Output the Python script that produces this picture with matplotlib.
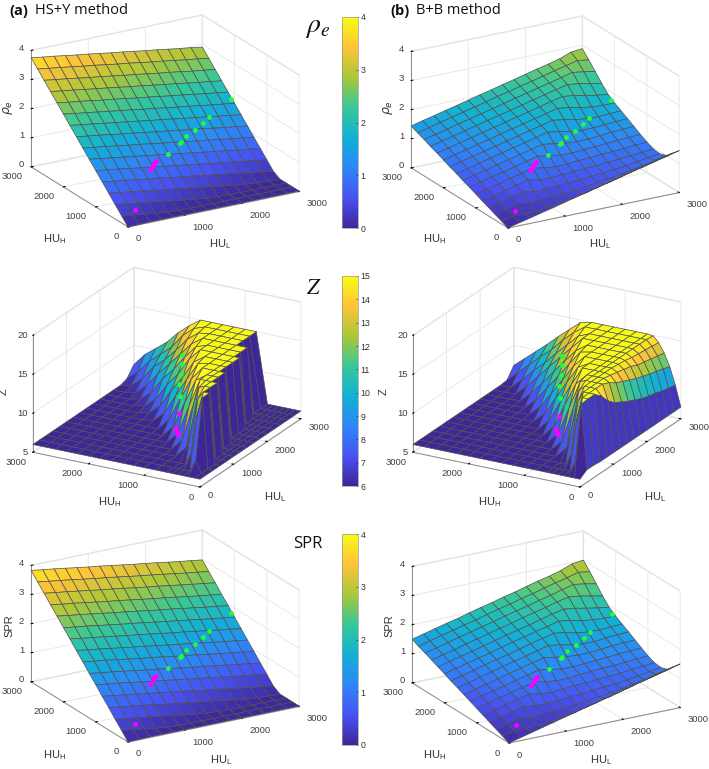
import numpy as np
import matplotlib
matplotlib.use('Agg')
import matplotlib.pyplot as plt
from matplotlib.cm import ScalarMappable
from matplotlib.colors import LinearSegmentedColormap, Normalize
from matplotlib.ticker import NullFormatter
from mpl_toolkits.mplot3d import proj3d

plt.rcParams['font.family'] = ['Liberation Sans', 'DejaVu Sans']
plt.rcParams['mathtext.default'] = 'regular'

# grid of the surfaces (rows = HU_H, columns = HU_L)
hu_l = [0, 200, 400, 600, 800, 1000, 1200, 1400, 1600, 1800, 2000, 2200, 2400, 2600, 2800, 3000]
hu_h = [0, 200, 400, 600, 800, 1000, 1200, 1400, 1600, 1800, 2000, 2200, 2400, 2600, 2800, 3000]
hu_h_z = [0, 100, 200, 300, 400, 500, 600, 800, 1000, 1200, 1400, 1600, 1800, 2000, 2200, 2400, 2600, 2800, 3000]

# rho_e x100, HS+Y
rho_hsy = [
    [0, 1, 2, 2, 2, 2, 2, 2, 2, 2, 2, 2, 2, 2, 2, 2],
    [25, 19, 14, 9, 5, 3, 2, 2, 2, 2, 2, 2, 2, 2, 2, 2],
    [50, 44, 39, 33, 27, 22, 16, 11, 7, 4, 3, 2, 2, 2, 2, 2],
    [75, 69, 64, 58, 52, 47, 41, 35, 30, 24, 18, 13, 9, 5, 3, 2],
    [100, 94, 89, 83, 77, 72, 66, 60, 55, 49, 43, 38, 32, 26, 21, 15],
    [125, 119, 114, 108, 102, 97, 91, 85, 80, 74, 68, 63, 57, 51, 46, 40],
    [150, 144, 139, 133, 127, 122, 116, 110, 105, 99, 93, 88, 82, 76, 71, 65],
    [175, 169, 164, 158, 152, 147, 141, 135, 130, 124, 118, 113, 107, 101, 96, 90],
    [200, 194, 189, 183, 177, 172, 166, 160, 155, 149, 143, 138, 132, 126, 121, 115],
    [225, 219, 214, 208, 202, 197, 191, 185, 180, 174, 168, 163, 157, 151, 146, 140],
    [250, 244, 239, 233, 227, 222, 216, 210, 205, 199, 193, 188, 182, 176, 171, 165],
    [275, 269, 264, 258, 252, 247, 241, 235, 230, 224, 218, 213, 207, 201, 196, 190],
    [300, 294, 289, 283, 277, 272, 266, 260, 255, 249, 243, 238, 232, 226, 221, 215],
    [325, 319, 314, 308, 302, 297, 291, 285, 280, 274, 268, 263, 257, 251, 246, 240],
    [350, 344, 339, 333, 327, 322, 316, 310, 305, 299, 293, 288, 282, 276, 271, 265],
    [375, 369, 364, 358, 352, 347, 341, 335, 330, 324, 318, 313, 307, 301, 296, 290],
]
# rho_e x100, B+B
rho_bb = [
    [0, 10, 19, 29, 38, 48, 58, 67, 77, 86, 96, 106, 115, 125, 134, 144],
    [10, 19, 18, 21, 25, 31, 37, 45, 54, 64, 73, 83, 93, 102, 112, 122],
    [19, 29, 38, 34, 37, 39, 42, 46, 50, 56, 61, 67, 74, 81, 91, 100],
    [29, 38, 48, 58, 52, 52, 55, 57, 60, 63, 67, 70, 75, 81, 87, 92],
    [38, 48, 58, 67, 77, 70, 68, 71, 74, 76, 78, 81, 84, 88, 91, 95],
    [48, 58, 67, 77, 86, 96, 89, 85, 86, 89, 92, 95, 96, 99, 102, 105],
    [58, 67, 77, 86, 96, 106, 115, 109, 103, 102, 105, 108, 110, 113, 115, 117],
    [67, 77, 86, 96, 106, 115, 125, 134, 128, 122, 119, 120, 123, 127, 129, 131],
    [77, 86, 96, 106, 115, 125, 134, 144, 154, 148, 140, 136, 136, 139, 142, 144],
    [86, 96, 106, 115, 125, 134, 144, 154, 163, 173, 167, 159, 154, 153, 155, 157],
    [96, 106, 115, 125, 134, 144, 154, 163, 173, 182, 192, 187, 178, 173, 170, 170],
    [106, 115, 125, 134, 144, 154, 163, 173, 182, 192, 202, 211, 206, 198, 191, 186],
    [115, 125, 134, 144, 154, 163, 173, 182, 192, 202, 211, 221, 230, 225, 217, 210],
    [125, 134, 144, 154, 163, 173, 182, 192, 202, 211, 221, 230, 240, 250, 244, 237],
    [134, 144, 154, 163, 173, 182, 192, 202, 211, 221, 230, 240, 250, 259, 269, 263],
    [144, 154, 163, 173, 182, 192, 202, 211, 221, 230, 240, 250, 259, 269, 284, 288],
]
# Z x10, HS+Y
z_hsy = [
    [60] * 16,
    [60] * 16,
    [60, 75, 150, 150] + [60] * 12,
    [60, 60, 124, 150, 150, 150] + [60] * 10,
    [60, 60, 75, 140, 150, 150, 150, 150] + [60] * 8,
    [60, 60, 60, 108, 147, 150, 150, 150, 150, 150, 150, 60, 60, 60, 60, 60],
    [60, 60, 60, 75, 124, 150, 150, 150, 150, 150, 150, 150, 150, 60, 60, 60],
    [60, 60, 60, 60, 75, 113, 140] + [150] * 9,
    [60] * 5 + [75, 108, 133, 147] + [150] * 7,
    [60] * 6 + [75, 104, 124, 140] + [150] * 6,
    [60] * 7 + [75, 100, 117, 135, 145] + [150] * 4,
    [60] * 8 + [75, 98, 113, 129, 140, 148, 150, 150],
    [60] * 8 + [62, 75, 96, 110, 124, 137, 145, 150],
    [60] * 9 + [63, 75, 95, 108, 120, 133, 140],
    [60] * 10 + [63, 75, 93, 105, 115, 128],
    [60] * 11 + [63, 75, 93, 103, 113],
    [60] * 12 + [63, 75, 91, 102],
    [60] * 13 + [63, 75, 91],
    [60] * 14 + [63, 75],
]
# Z x10, B+B
z_bb = [
    [60, 66, 66] + [65] * 13,
    [60, 149, 150, 150, 142, 130, 122, 117, 112, 108, 104, 101, 99, 96, 94, 92],
    [60, 74, 150, 150, 150, 150, 146, 140, 136, 132, 128, 125, 122, 120, 117, 114],
    [60, 60, 120, 150, 150, 150, 150, 148, 146, 144, 142, 138, 136, 134, 132, 130],
    [60, 60, 74, 136, 150, 150, 150, 150, 150, 149, 148, 146, 145, 144, 143, 142],
    [60, 60, 60, 105, 143] + [150] * 10 + [149],
    [60, 60, 60, 74, 120, 147] + [150] * 10,
    [60, 60, 60, 60, 74, 110, 135] + [150] * 9,
    [60] * 5 + [74, 105, 126, 142] + [150] * 7,
    [60] * 6 + [74, 100, 120, 135, 147] + [150] * 5,
    [60] * 7 + [74, 97, 114, 129, 140] + [150] * 4,
    [60] * 8 + [74, 94, 110, 124, 135, 144, 150, 150],
    [60] * 8 + [61, 74, 92, 107, 120, 130, 140, 147],
    [60] * 9 + [61, 74, 90, 105, 116, 127, 135],
    [60] * 10 + [61, 74, 89, 101, 112, 123],
    [60] * 11 + [61, 74, 88, 100, 110],
    [60] * 12 + [61, 74, 87, 98],
    [60] * 13 + [61, 74, 86],
    [60] * 14 + [61, 74],
]
# SPR x100, HS+Y
spr_hsy = [
    [0, 1, 2, 2, 2, 2, 2, 2, 2, 2, 2, 2, 2, 2, 2, 2],
    [26, 20, 15, 9, 5, 3, 2, 2, 2, 2, 2, 2, 2, 2, 2, 2],
    [51, 45, 40, 34, 28, 22, 17, 11, 7, 4, 3, 2, 2, 2, 2, 2],
    [77, 71, 66, 60, 54, 48, 43, 37, 31, 25, 20, 14, 9, 5, 3, 2],
    [102, 96, 91, 85, 79, 73, 68, 62, 56, 50, 45, 39, 33, 27, 22, 16],
    [128, 122, 117, 111, 105, 99, 94, 88, 82, 76, 71, 65, 59, 53, 48, 42],
    [153, 147, 142, 136, 130, 124, 119, 113, 107, 101, 96, 90, 84, 78, 73, 67],
    [179, 173, 168, 162, 156, 150, 145, 139, 133, 127, 122, 116, 110, 104, 99, 93],
    [204, 198, 193, 187, 181, 175, 170, 164, 158, 152, 147, 141, 135, 129, 124, 118],
    [230, 224, 219, 213, 207, 201, 196, 190, 184, 178, 173, 167, 161, 155, 150, 144],
    [255, 249, 244, 238, 232, 226, 221, 215, 209, 203, 198, 192, 186, 180, 175, 169],
    [281, 275, 270, 264, 258, 252, 247, 241, 235, 229, 224, 218, 212, 206, 201, 195],
    [306, 300, 295, 289, 283, 277, 272, 266, 260, 254, 249, 243, 237, 231, 226, 220],
    [332, 326, 321, 315, 309, 303, 298, 292, 286, 280, 275, 269, 263, 257, 252, 246],
    [357, 351, 346, 340, 334, 328, 323, 317, 311, 305, 300, 294, 288, 282, 277, 271],
    [383, 377, 372, 366, 360, 354, 349, 343, 337, 331, 326, 320, 314, 308, 303, 297],
]
# SPR x100, B+B
spr_bb = [
    [0, 10, 20, 30, 40, 50, 60, 70, 80, 89, 100, 110, 120, 130, 139, 150],
    [10, 20, 19, 22, 26, 32, 38, 47, 56, 67, 76, 86, 97, 106, 116, 127],
    [20, 30, 40, 35, 38, 41, 44, 48, 52, 58, 63, 70, 77, 84, 95, 104],
    [30, 40, 50, 60, 54, 54, 57, 59, 62, 66, 70, 73, 78, 84, 90, 96],
    [40, 50, 60, 70, 80, 73, 71, 74, 77, 79, 81, 84, 87, 92, 95, 99],
    [50, 60, 70, 80, 89, 100, 93, 88, 89, 93, 96, 99, 100, 103, 106, 109],
    [60, 70, 80, 89, 100, 110, 120, 113, 107, 106, 109, 112, 114, 118, 120, 122],
    [70, 80, 89, 100, 110, 120, 130, 139, 133, 127, 124, 125, 128, 132, 134, 136],
    [80, 89, 100, 110, 120, 130, 139, 150, 160, 154, 146, 141, 141, 145, 148, 150],
    [89, 100, 110, 120, 130, 139, 150, 160, 170, 180, 174, 165, 160, 159, 161, 163],
    [100, 110, 120, 130, 139, 150, 160, 170, 180, 189, 200, 194, 185, 180, 177, 177],
    [110, 120, 130, 139, 150, 160, 170, 180, 189, 200, 210, 219, 214, 206, 199, 193],
    [120, 130, 139, 150, 160, 170, 180, 189, 200, 210, 219, 230, 239, 234, 226, 218],
    [130, 139, 150, 160, 170, 180, 189, 200, 210, 219, 230, 239, 250, 260, 254, 246],
    [139, 150, 160, 170, 180, 189, 200, 210, 219, 230, 239, 250, 260, 269, 280, 274],
    [150, 160, 170, 180, 189, 200, 210, 219, 230, 239, 250, 260, 269, 280, 295, 300],
]

# phantom inserts
pink_l = [285, 938, 1008, 1068, 1112]
pink_h = [289, 962, 1016, 1070, 1094]
green_l = [1386, 1690, 1718, 1856, 2079, 2279, 2440, 2975]
green_h = [1206, 1382, 1400, 1490, 1594, 1700, 1796, 2076]
pink_rho = [0.28, 0.94, 0.99, 1.03, 1.05]
green_rho = [1.11, 1.25, 1.26, 1.34, 1.40, 1.48, 1.56, 1.75]
pink_spr = [0.29, 0.96, 1.01, 1.06, 1.08]
green_spr = [1.14, 1.28, 1.29, 1.37, 1.44, 1.52, 1.60, 1.80]

z_pink_l = [938, 1008, 1068, 1112, 1386]
z_pink_h = [962, 1016, 1070, 1094, 1206]
z_green_l = [1690, 1856, 2079, 2279, 2440]
z_green_h = [1382, 1490, 1594, 1700, 1796]
z_pink_hsy = [7.7, 7.4, 7.7, 7.65, 8.65]
z_green_hsy = [9.66, 10.55, 11.1, 11.6, 12.2]
z_pink_bb = [7.6, 7.3, 7.6, 7.5, 8.3]
z_green_bb = [9.5, 10.4, 10.95, 11.5, 12.0]

# parula
parula = ['#3e2699', '#4852f4', '#2d87f7', '#11b1d6', '#37c897', '#abc739', '#fec338', '#f9fb15']
cmap = LinearSegmentedColormap.from_list('parula', parula)

W, H = 709, 769
fig = plt.figure(figsize=(W / 100, H / 100), dpi=100)
hu_ticks = [0, 1000, 2000, 3000]


def corner(ax, x, y, z):
    px, py, _ = proj3d.proj_transform(x, y, z, ax.get_proj())
    return ax.transData.transform((px, py))


def text(x, y, s, **kw):
    kw.setdefault('ha', 'center')
    kw.setdefault('va', 'center')
    kw.setdefault('color', '#333333')
    fig.text(x / W, (H - y) / H, s, **kw)


def panel(values, ys, zlim, zticks, clim, elev, azim, aspect, left, right, front, points,
          xoff, yoff, zoff, first_vertex=False):
    size = 300
    ax = fig.add_axes([0, 0, size / W, size / H], projection='3d', computed_zorder=False)
    ax.set_proj_type('ortho')
    ax.view_init(elev=elev, azim=azim)
    ax.set_xlim(0, 3000, view_margin=0)
    ax.set_ylim(0, 3000, view_margin=0)
    ax.set_zlim(zlim[0], zlim[1], view_margin=0)
    ax.set_box_aspect(aspect)
    ax.patch.set_alpha(0)

    # fit the box onto the pixel corners
    span = corner(ax, 3000, 0, zlim[0])[0] - corner(ax, 0, 3000, zlim[0])[0]
    size = size * (right - left) / span
    ax.set_position([0, 0, size / W, size / H])
    p = corner(ax, 0, 0, zlim[0])
    ax.set_position([(front[0] - p[0]) / W, (H - front[1] - p[1]) / H, size / W, size / H])

    X, Y = np.meshgrid(hu_l, ys)
    norm = Normalize(clim[0], clim[1])
    edge = dict(edgecolor='#505050', linewidth=0.5, shade=False, rstride=1, cstride=1, zorder=1)
    if first_vertex:
        # flat faces take the colour of their first vertex, walls take the low side
        shade = values.copy()
        drop = values[:, :-1] - values[:, 1:] > 4
        shade[:, :-1][drop] = values[:, 1:][drop]
        ax.plot_surface(X, Y, values, facecolors=cmap(norm(shade)), **edge)
    else:
        ax.plot_surface(X, Y, values, cmap=cmap, norm=norm, **edge)
    for xs, yy, zz, c in points:
        ax.scatter(xs, yy, zz, s=12, c=c, linewidths=0, depthshade=False, zorder=2)

    ax.set_xticks(hu_ticks)
    ax.set_yticks(hu_ticks)
    ax.set_zticks(zticks)
    for axis in (ax.xaxis, ax.yaxis, ax.zaxis):
        axis.set_major_formatter(NullFormatter())
        axis.set_pane_color((1, 1, 1, 1))
        axis.pane.set_edgecolor('#e4e4e4')
        axis.line.set_color('#8c8c8c')
        axis.line.set_linewidth(0.7)
        axis._axinfo['grid'].update(color='#e6e6e6', linewidth=0.6)
        axis._axinfo['tick'].update(inward_factor=0.0, outward_factor=0.12)
        axis._axinfo['tick']['color'] = '#8c8c8c'

    # tick labels sit at a fixed pixel offset from their tick, as in the picture
    for t in hu_ticks:
        q = corner(ax, t, 0, zlim[0])
        text(q[0] + xoff[0], H - q[1] + xoff[1], str(t), ha='left', fontsize=6.8, color='#404040')
        q = corner(ax, 0, t, zlim[0])
        text(q[0] + yoff[0], H - q[1] + yoff[1], str(t), ha='right', fontsize=6.8, color='#404040')
    for t in zticks:
        q = corner(ax, 0, 3000, t)
        text(q[0] + zoff[0], H - q[1] + zoff[1], str(t), ha='right', fontsize=6.8, color='#404040')
    return ax


def bar(x0, y0, y1, clim, ticks):
    cax = fig.add_axes([x0 / W, (H - y1) / H, 16 / W, (y1 - y0) / H])
    cb = fig.colorbar(ScalarMappable(Normalize(clim[0], clim[1]), cmap), cax=cax, ticks=ticks)
    cb.ax.tick_params(labelsize=6.3, length=1.5, width=0.5, pad=2, colors='#333333', direction='in')
    cb.outline.set_edgecolor('#999999')
    cb.outline.set_linewidth(0.5)


view_top = dict(elev=21, azim=-120, aspect=(198, 194, 125), xoff=(7.5, 12), yoff=(-9, 10), zoff=(-7, -2))
view_mid = dict(elev=22, azim=-151, aspect=(208, 191, 126), xoff=(7.5, 9), yoff=(-6, 10), zoff=(-5, 0))
arr = lambda v, k: np.array(v, dtype=float) / k

panel(arr(rho_hsy, 100), hu_h, (0, 4), [0, 1, 2, 3, 4], (0, 4), left=32, right=300, front=(128, 227),
      points=[(pink_l, pink_h, pink_rho, '#ff00ff'), (green_l, green_h, green_rho, '#19ff3c')], **view_top)
panel(arr(rho_bb, 100), hu_h, (0, 4), [0, 1, 2, 3, 4], (0, 4), left=412, right=680, front=(508, 228),
      points=[(pink_l, pink_h, pink_rho, '#ff00ff'), (green_l, green_h, green_rho, '#19ff3c')], **view_top)
panel(arr(z_hsy, 10), hu_h_z, (5, 20), [5, 10, 15, 20], (6, 15), left=32, right=300, front=(200, 487), first_vertex=True,
      points=[(z_pink_l, z_pink_h, z_pink_hsy, '#ff00ff'), (z_green_l, z_green_h, z_green_hsy, '#19ff3c')], **view_mid)
panel(arr(z_bb, 10), hu_h_z, (5, 20), [5, 10, 15, 20], (6, 15), left=412, right=680, front=(580, 487), first_vertex=True,
      points=[(z_pink_l, z_pink_h, z_pink_bb, '#ff00ff'), (z_green_l, z_green_h, z_green_bb, '#19ff3c')], **view_mid)
panel(arr(spr_hsy, 100), hu_h, (0, 4), [0, 1, 2, 3, 4], (0, 4), left=32, right=300, front=(128, 742),
      points=[(pink_l, pink_h, pink_spr, '#ff00ff'), (green_l, green_h, green_spr, '#19ff3c')], **view_top)
panel(arr(spr_bb, 100), hu_h, (0, 4), [0, 1, 2, 3, 4], (0, 4), left=412, right=680, front=(509, 743),
      points=[(pink_l, pink_h, pink_spr, '#ff00ff'), (green_l, green_h, green_spr, '#19ff3c')], **view_top)

bar(342, 17, 228, (0, 4), [0, 1, 2, 3, 4])
bar(342, 276, 486, (6, 15), list(range(6, 16)))
bar(342, 534, 745, (0, 4), [0, 1, 2, 3, 4])

text(9, 11, '(a)', ha='left', fontsize=10.5, fontweight='bold', family='Open Sans', color='#111111')
text(35, 11, 'HS+Y method', ha='left', fontsize=10.5, family='Open Sans', color='#111111')
text(390, 11, '(b)', ha='left', fontsize=10.5, fontweight='bold', family='Open Sans', color='#111111')
text(416, 11, 'B+B method', ha='left', fontsize=10.5, family='Open Sans', color='#111111')
text(318, 27, r'$\mathit{\rho}_{\mathit{e}}$', fontsize=20, math_fontfamily='stix', color='#111111')
text(314, 289, r'$\mathit{Z}$', fontsize=16, math_fontfamily='stix', color='#111111')
text(308, 544, 'SPR', fontsize=12, family='Open Sans', color='#111111')

hu_hi = 'HU$_{H}$'
hu_lo = 'HU$_{L}$'
for dx in (0, 380):
    text(55 + dx, 239, hu_hi, fontsize=8)
    text(220 + dx, 244, hu_lo, fontsize=8)
    text(8 + dx, 108, r'$\mathit{\rho}_{\mathit{e}}$', fontsize=9, rotation=90)
    text(110 + dx, 502, hu_hi, fontsize=8)
    text(275 + dx, 497, hu_lo, fontsize=8)
    text(4 + dx, 392, 'Z', fontsize=8, rotation=90)
    text(55 + dx, 755, hu_hi, fontsize=8)
    text(221 + dx, 760, hu_lo, fontsize=8)
    text(9 + dx, 626, 'SPR', fontsize=8, rotation=90)

fig.savefig('out.png', dpi=100)
